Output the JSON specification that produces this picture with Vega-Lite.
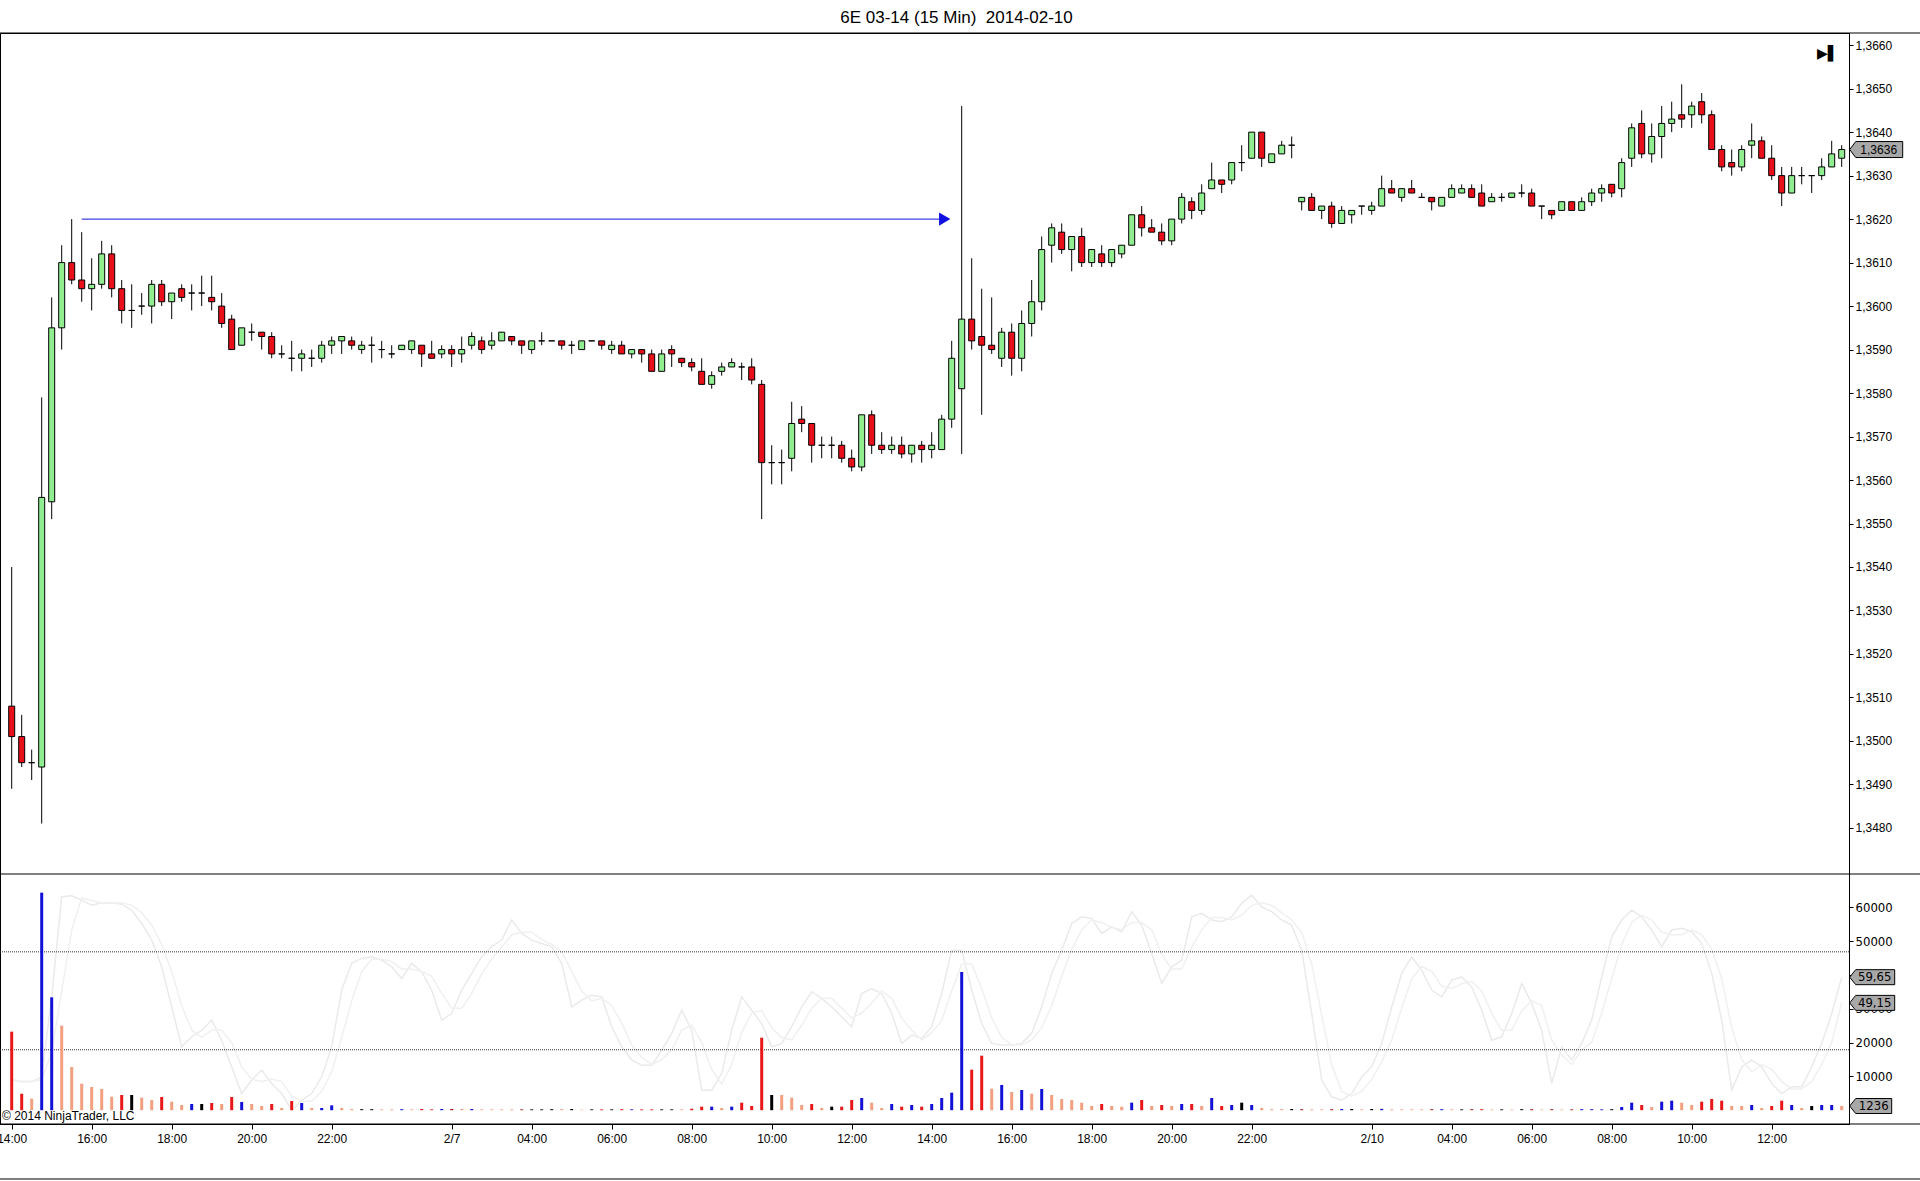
{
  "$schema": "https://vega.github.io/schema/vega-lite/v6.json",
  "autosize": {"type": "none"},
  "width": 1849,
  "height": 1091,
  "padding": {"left": 0, "top": 33, "right": 71, "bottom": 57},
  "background": "white",
  "title": {"text": "6E 03-14 (15 Min)\u00a0 2014-02-10", "font": "Liberation Sans", "fontSize": 17, "fontWeight": "normal", "color": "black", "anchor": "middle", "frame": "group", "dx": 32, "offset": 6},
  "config": {
    "view": {"stroke": "black", "strokeWidth": 1},
    "locale": {"number": {"decimal": ",", "thousands": ".", "grouping": [3], "currency": ["", " €"]}},
    "axis": {"labelFont": "Liberation Sans", "labelFontSize": 12, "labelColor": "black", "tickColor": "black", "domainColor": "black", "grid": false, "title": null}
  },
  "datasets": {
    "bars": [
      {"i":0,"o":1.3508,"h":1.3540,"l":1.3489,"c":1.3501,"v":23240,"vc":"down","k":17.6,"d":17.6},
      {"i":1,"o":1.3501,"h":1.3506,"l":1.3494,"c":1.3495,"v":4870,"vc":"down","k":16.9,"d":17.2},
      {"i":2,"o":1.3495,"h":1.3498,"l":1.3491,"c":1.3495,"v":3420,"vc":"fade","k":16.9,"d":17.1},
      {"i":3,"o":1.3494,"h":1.3579,"l":1.3481,"c":1.3556,"v":64360,"vc":"up","k":18.9,"d":17.6},
      {"i":4,"o":1.3555,"h":1.3602,"l":1.3551,"c":1.3595,"v":33390,"vc":"up","k":51.6,"d":29},
      {"i":5,"o":1.3595,"h":1.3614,"l":1.3590,"c":1.3610,"v":25010,"vc":"fade","k":92.5,"d":54},
      {"i":6,"o":1.3610,"h":1.3620,"l":1.3605,"c":1.3606,"v":12780,"vc":"fade","k":92.9,"d":79},
      {"i":7,"o":1.3606,"h":1.3617,"l":1.3601,"c":1.3604,"v":7850,"vc":"fade","k":91.1,"d":92},
      {"i":8,"o":1.3604,"h":1.3611,"l":1.3599,"c":1.3605,"v":6860,"vc":"fade","k":89.1,"d":91},
      {"i":9,"o":1.3605,"h":1.3615,"l":1.3604,"c":1.3612,"v":6270,"vc":"fade","k":90.0,"d":90},
      {"i":10,"o":1.3612,"h":1.3614,"l":1.3602,"c":1.3604,"v":4000,"vc":"fade","k":90.0,"d":90},
      {"i":11,"o":1.3604,"h":1.3606,"l":1.3596,"c":1.3599,"v":4500,"vc":"down","k":89.5,"d":90},
      {"i":12,"o":1.3599,"h":1.3605,"l":1.3595,"c":1.3599,"v":4500,"vc":"flat","k":87.0,"d":89},
      {"i":13,"o":1.3600,"h":1.3603,"l":1.3598,"c":1.3600,"v":3710,"vc":"fade","k":81.6,"d":86},
      {"i":14,"o":1.3600,"h":1.3606,"l":1.3596,"c":1.3605,"v":3020,"vc":"fade","k":74.8,"d":81},
      {"i":15,"o":1.3605,"h":1.3606,"l":1.3600,"c":1.3601,"v":3910,"vc":"down","k":63.9,"d":73},
      {"i":16,"o":1.3601,"h":1.3603,"l":1.3597,"c":1.3603,"v":2520,"vc":"fade","k":47.5,"d":62},
      {"i":17,"o":1.3604,"h":1.3605,"l":1.3601,"c":1.3602,"v":1540,"vc":"fade","k":31.2,"d":48},
      {"i":18,"o":1.3603,"h":1.3605,"l":1.3599,"c":1.3603,"v":1840,"vc":"up","k":35.3,"d":38},
      {"i":19,"o":1.3603,"h":1.3607,"l":1.3600,"c":1.3603,"v":1840,"vc":"flat","k":38.0,"d":35},
      {"i":20,"o":1.3602,"h":1.3607,"l":1.3599,"c":1.3601,"v":2130,"vc":"down","k":42.1,"d":38},
      {"i":21,"o":1.3600,"h":1.3603,"l":1.3595,"c":1.3596,"v":1840,"vc":"fade","k":33.9,"d":38},
      {"i":22,"o":1.3597,"h":1.3598,"l":1.3590,"c":1.3590,"v":3910,"vc":"down","k":23.0,"d":33},
      {"i":23,"o":1.3591,"h":1.3595,"l":1.3591,"c":1.3595,"v":2420,"vc":"up","k":12.1,"d":23},
      {"i":24,"o":1.3594,"h":1.3596,"l":1.3592,"c":1.3594,"v":1840,"vc":"fade","k":17.6,"d":18},
      {"i":25,"o":1.3594,"h":1.3594,"l":1.3590,"c":1.3593,"v":1240,"vc":"fade","k":21.7,"d":17},
      {"i":26,"o":1.3593,"h":1.3594,"l":1.3588,"c":1.3589,"v":1840,"vc":"down","k":16.2,"d":18},
      {"i":27,"o":1.3589,"h":1.3591,"l":1.3588,"c":1.3589,"v":650,"vc":"fade","k":12.1,"d":17},
      {"i":28,"o":1.3588,"h":1.3592,"l":1.3585,"c":1.3588,"v":2720,"vc":"down","k":5.3,"d":11},
      {"i":29,"o":1.3588,"h":1.3590,"l":1.3585,"c":1.3589,"v":2130,"vc":"up","k":9.4,"d":9},
      {"i":30,"o":1.3588,"h":1.3590,"l":1.3586,"c":1.3588,"v":650,"vc":"fade","k":12.1,"d":9},
      {"i":31,"o":1.3588,"h":1.3592,"l":1.3587,"c":1.3591,"v":650,"vc":"up","k":18.9,"d":13},
      {"i":32,"o":1.3591,"h":1.3593,"l":1.3589,"c":1.3592,"v":1440,"vc":"up","k":31.2,"d":21},
      {"i":33,"o":1.3592,"h":1.3593,"l":1.3589,"c":1.3593,"v":650,"vc":"fade","k":54.4,"d":35},
      {"i":34,"o":1.3592,"h":1.3593,"l":1.3590,"c":1.3591,"v":350,"vc":"fade","k":65.3,"d":50},
      {"i":35,"o":1.3590,"h":1.3592,"l":1.3589,"c":1.3591,"v":300,"vc":"flat","k":67.3,"d":62},
      {"i":36,"o":1.3591,"h":1.3593,"l":1.3587,"c":1.3591,"v":300,"vc":"flat","k":68.0,"d":67},
      {"i":37,"o":1.3590,"h":1.3592,"l":1.3588,"c":1.3590,"v":250,"vc":"fade","k":66.6,"d":67},
      {"i":38,"o":1.3589,"h":1.3591,"l":1.3588,"c":1.3589,"v":250,"vc":"fade","k":63.9,"d":66},
      {"i":39,"o":1.3590,"h":1.3591,"l":1.3590,"c":1.3591,"v":300,"vc":"up","k":59.1,"d":63},
      {"i":40,"o":1.3590,"h":1.3592,"l":1.3589,"c":1.3592,"v":250,"vc":"fade","k":65.3,"d":63},
      {"i":41,"o":1.3591,"h":1.3591,"l":1.3586,"c":1.3589,"v":350,"vc":"down","k":61.9,"d":62},
      {"i":42,"o":1.3589,"h":1.3592,"l":1.3588,"c":1.3588,"v":250,"vc":"down","k":54.4,"d":60},
      {"i":43,"o":1.3589,"h":1.3591,"l":1.3588,"c":1.3590,"v":350,"vc":"up","k":42.1,"d":53},
      {"i":44,"o":1.3590,"h":1.3591,"l":1.3586,"c":1.3589,"v":350,"vc":"deep","k":44.8,"d":47},
      {"i":45,"o":1.3589,"h":1.3593,"l":1.3587,"c":1.3590,"v":350,"vc":"fade","k":54.4,"d":47},
      {"i":46,"o":1.3591,"h":1.3594,"l":1.3590,"c":1.3593,"v":350,"vc":"up","k":61.2,"d":53},
      {"i":47,"o":1.3592,"h":1.3593,"l":1.3589,"c":1.3590,"v":250,"vc":"fade","k":68.0,"d":61},
      {"i":48,"o":1.3591,"h":1.3594,"l":1.3590,"c":1.3592,"v":250,"vc":"fade","k":72.1,"d":67},
      {"i":49,"o":1.3592,"h":1.3594,"l":1.3592,"c":1.3594,"v":250,"vc":"fade","k":74.8,"d":72},
      {"i":50,"o":1.3593,"h":1.3593,"l":1.3591,"c":1.3592,"v":250,"vc":"fade","k":83.0,"d":77},
      {"i":51,"o":1.3592,"h":1.3592,"l":1.3589,"c":1.3591,"v":250,"vc":"deep","k":77.5,"d":78},
      {"i":52,"o":1.3590,"h":1.3592,"l":1.3589,"c":1.3592,"v":250,"vc":"flat","k":74.8,"d":78},
      {"i":53,"o":1.3592,"h":1.3594,"l":1.3591,"c":1.3592,"v":250,"vc":"flat","k":73.4,"d":75},
      {"i":54,"o":1.3592,"h":1.3592,"l":1.3592,"c":1.3592,"v":300,"vc":"flat","k":72.1,"d":73},
      {"i":55,"o":1.3592,"h":1.3592,"l":1.3590,"c":1.3591,"v":300,"vc":"fade","k":65.3,"d":70},
      {"i":56,"o":1.3591,"h":1.3592,"l":1.3589,"c":1.3591,"v":350,"vc":"flat","k":47.5,"d":62},
      {"i":57,"o":1.3590,"h":1.3592,"l":1.3590,"c":1.3592,"v":150,"vc":"fade","k":50.3,"d":54},
      {"i":58,"o":1.3592,"h":1.3592,"l":1.3592,"c":1.3592,"v":250,"vc":"flat","k":52.3,"d":50},
      {"i":59,"o":1.3592,"h":1.3592,"l":1.3590,"c":1.3591,"v":250,"vc":"down","k":51.6,"d":51},
      {"i":60,"o":1.3590,"h":1.3592,"l":1.3589,"c":1.3591,"v":250,"vc":"flat","k":39.4,"d":48},
      {"i":61,"o":1.3591,"h":1.3592,"l":1.3589,"c":1.3589,"v":300,"vc":"down","k":31.2,"d":41},
      {"i":62,"o":1.3589,"h":1.3590,"l":1.3588,"c":1.3590,"v":250,"vc":"up","k":25.8,"d":32},
      {"i":63,"o":1.3590,"h":1.3590,"l":1.3587,"c":1.3589,"v":250,"vc":"down","k":23.7,"d":27},
      {"i":64,"o":1.3589,"h":1.3590,"l":1.3585,"c":1.3585,"v":250,"vc":"down","k":23.7,"d":24},
      {"i":65,"o":1.3585,"h":1.3590,"l":1.3585,"c":1.3589,"v":250,"vc":"flat","k":29.8,"d":26},
      {"i":66,"o":1.3590,"h":1.3591,"l":1.3586,"c":1.3589,"v":250,"vc":"flat","k":36.7,"d":30},
      {"i":67,"o":1.3588,"h":1.3588,"l":1.3586,"c":1.3587,"v":250,"vc":"fade","k":46.2,"d":38},
      {"i":68,"o":1.3587,"h":1.3588,"l":1.3585,"c":1.3586,"v":450,"vc":"down","k":38.0,"d":40},
      {"i":69,"o":1.3585,"h":1.3588,"l":1.3582,"c":1.3582,"v":1050,"vc":"down","k":13.5,"d":33},
      {"i":70,"o":1.3582,"h":1.3585,"l":1.3581,"c":1.3584,"v":1050,"vc":"up","k":13.5,"d":22},
      {"i":71,"o":1.3585,"h":1.3587,"l":1.3584,"c":1.3586,"v":650,"vc":"fade","k":20.3,"d":16},
      {"i":72,"o":1.3586,"h":1.3588,"l":1.3586,"c":1.3587,"v":1050,"vc":"up","k":38.0,"d":24},
      {"i":73,"o":1.3586,"h":1.3587,"l":1.3583,"c":1.3586,"v":2230,"vc":"down","k":51.6,"d":37},
      {"i":74,"o":1.3586,"h":1.3588,"l":1.3582,"c":1.3583,"v":1240,"vc":"down","k":46.2,"d":45},
      {"i":75,"o":1.3582,"h":1.3583,"l":1.3551,"c":1.3564,"v":21460,"vc":"down","k":40.7,"d":46},
      {"i":76,"o":1.3564,"h":1.3568,"l":1.3559,"c":1.3564,"v":4500,"vc":"flat","k":31.2,"d":39},
      {"i":77,"o":1.3564,"h":1.3567,"l":1.3559,"c":1.3564,"v":4500,"vc":"fade","k":32.6,"d":35},
      {"i":78,"o":1.3565,"h":1.3578,"l":1.3562,"c":1.3573,"v":3710,"vc":"fade","k":39.4,"d":34},
      {"i":79,"o":1.3574,"h":1.3577,"l":1.3571,"c":1.3573,"v":1540,"vc":"fade","k":47.5,"d":40},
      {"i":80,"o":1.3573,"h":1.3573,"l":1.3564,"c":1.3568,"v":1830,"vc":"down","k":53.7,"d":47},
      {"i":81,"o":1.3568,"h":1.3570,"l":1.3565,"c":1.3568,"v":650,"vc":"fade","k":51.0,"d":51},
      {"i":82,"o":1.3568,"h":1.3570,"l":1.3565,"c":1.3568,"v":1050,"vc":"flat","k":47.5,"d":51},
      {"i":83,"o":1.3568,"h":1.3569,"l":1.3564,"c":1.3565,"v":1050,"vc":"down","k":43.5,"d":47},
      {"i":84,"o":1.3565,"h":1.3567,"l":1.3562,"c":1.3563,"v":3020,"vc":"down","k":39.4,"d":43},
      {"i":85,"o":1.3563,"h":1.3575,"l":1.3562,"c":1.3575,"v":3610,"vc":"up","k":53.0,"d":45},
      {"i":86,"o":1.3575,"h":1.3576,"l":1.3566,"c":1.3568,"v":2230,"vc":"fade","k":55.0,"d":49},
      {"i":87,"o":1.3568,"h":1.3571,"l":1.3566,"c":1.3567,"v":650,"vc":"fade","k":53.0,"d":54},
      {"i":88,"o":1.3567,"h":1.3570,"l":1.3566,"c":1.3568,"v":1830,"vc":"up","k":44.8,"d":51},
      {"i":89,"o":1.3568,"h":1.3570,"l":1.3565,"c":1.3566,"v":1050,"vc":"down","k":32.6,"d":43},
      {"i":90,"o":1.3566,"h":1.3568,"l":1.3564,"c":1.3568,"v":1540,"vc":"up","k":36.0,"d":38},
      {"i":91,"o":1.3568,"h":1.3569,"l":1.3564,"c":1.3567,"v":1050,"vc":"down","k":34.6,"d":34},
      {"i":92,"o":1.3567,"h":1.3571,"l":1.3565,"c":1.3568,"v":1830,"vc":"up","k":39.4,"d":37},
      {"i":93,"o":1.3567,"h":1.3575,"l":1.3567,"c":1.3574,"v":3610,"vc":"up","k":53.0,"d":42},
      {"i":94,"o":1.3574,"h":1.3592,"l":1.3572,"c":1.3588,"v":5190,"vc":"up","k":70.7,"d":54},
      {"i":95,"o":1.3581,"h":1.3646,"l":1.3566,"c":1.3597,"v":40890,"vc":"up","k":70.7,"d":65},
      {"i":96,"o":1.3597,"h":1.3611,"l":1.3590,"c":1.3592,"v":11990,"vc":"down","k":54.4,"d":65},
      {"i":97,"o":1.3593,"h":1.3604,"l":1.3575,"c":1.3591,"v":16130,"vc":"down","k":40.7,"d":55},
      {"i":98,"o":1.3591,"h":1.3602,"l":1.3589,"c":1.3590,"v":6370,"vc":"fade","k":32.6,"d":43},
      {"i":99,"o":1.3588,"h":1.3595,"l":1.3586,"c":1.3594,"v":7460,"vc":"up","k":31.9,"d":35},
      {"i":100,"o":1.3594,"h":1.3596,"l":1.3584,"c":1.3588,"v":5380,"vc":"fade","k":31.9,"d":32},
      {"i":101,"o":1.3588,"h":1.3599,"l":1.3585,"c":1.3596,"v":5980,"vc":"up","k":32.6,"d":32},
      {"i":102,"o":1.3596,"h":1.3606,"l":1.3593,"c":1.3601,"v":4890,"vc":"fade","k":36.7,"d":34},
      {"i":103,"o":1.3601,"h":1.3616,"l":1.3599,"c":1.3613,"v":6270,"vc":"up","k":47.5,"d":39},
      {"i":104,"o":1.3614,"h":1.3619,"l":1.3610,"c":1.3618,"v":4500,"vc":"fade","k":61.2,"d":48},
      {"i":105,"o":1.3617,"h":1.3619,"l":1.3612,"c":1.3613,"v":3310,"vc":"fade","k":70.7,"d":60},
      {"i":106,"o":1.3613,"h":1.3616,"l":1.3608,"c":1.3616,"v":3020,"vc":"fade","k":81.6,"d":71},
      {"i":107,"o":1.3616,"h":1.3618,"l":1.3609,"c":1.3610,"v":2230,"vc":"fade","k":84.3,"d":79},
      {"i":108,"o":1.3610,"h":1.3613,"l":1.3609,"c":1.3613,"v":1240,"vc":"fade","k":83.6,"d":83},
      {"i":109,"o":1.3612,"h":1.3614,"l":1.3609,"c":1.3610,"v":1830,"vc":"down","k":77.5,"d":82},
      {"i":110,"o":1.3610,"h":1.3613,"l":1.3609,"c":1.3613,"v":1240,"vc":"fade","k":80.2,"d":80},
      {"i":111,"o":1.3612,"h":1.3614,"l":1.3611,"c":1.3614,"v":1050,"vc":"fade","k":78.2,"d":79},
      {"i":112,"o":1.3614,"h":1.3621,"l":1.3614,"c":1.3621,"v":2230,"vc":"up","k":86.4,"d":82},
      {"i":113,"o":1.3621,"h":1.3623,"l":1.3616,"c":1.3618,"v":3020,"vc":"down","k":80.9,"d":82},
      {"i":114,"o":1.3618,"h":1.3620,"l":1.3617,"c":1.3617,"v":1240,"vc":"fade","k":69.3,"d":79},
      {"i":115,"o":1.3617,"h":1.3619,"l":1.3614,"c":1.3615,"v":1540,"vc":"down","k":57.1,"d":69},
      {"i":116,"o":1.3615,"h":1.3620,"l":1.3614,"c":1.3620,"v":1240,"vc":"fade","k":63.9,"d":63},
      {"i":117,"o":1.3620,"h":1.3626,"l":1.3619,"c":1.3625,"v":1830,"vc":"up","k":66.6,"d":63},
      {"i":118,"o":1.3624,"h":1.3625,"l":1.3620,"c":1.3622,"v":1830,"vc":"down","k":84.3,"d":72},
      {"i":119,"o":1.3622,"h":1.3628,"l":1.3621,"c":1.3626,"v":1240,"vc":"fade","k":85.7,"d":79},
      {"i":120,"o":1.3627,"h":1.3633,"l":1.3627,"c":1.3629,"v":3610,"vc":"up","k":83.0,"d":84},
      {"i":121,"o":1.3629,"h":1.3629,"l":1.3626,"c":1.3628,"v":1240,"vc":"down","k":82.3,"d":84},
      {"i":122,"o":1.3629,"h":1.3633,"l":1.3628,"c":1.3633,"v":1540,"vc":"up","k":84.3,"d":83},
      {"i":123,"o":1.3633,"h":1.3637,"l":1.3631,"c":1.3633,"v":2230,"vc":"flat","k":89.8,"d":85},
      {"i":124,"o":1.3634,"h":1.3640,"l":1.3634,"c":1.3640,"v":1540,"vc":"up","k":93.2,"d":89},
      {"i":125,"o":1.3640,"h":1.3640,"l":1.3632,"c":1.3634,"v":650,"vc":"fade","k":88.4,"d":90},
      {"i":126,"o":1.3633,"h":1.3635,"l":1.3633,"c":1.3635,"v":300,"vc":"fade","k":86.4,"d":89},
      {"i":127,"o":1.3635,"h":1.3638,"l":1.3635,"c":1.3637,"v":300,"vc":"fade","k":83.0,"d":86},
      {"i":128,"o":1.3637,"h":1.3639,"l":1.3634,"c":1.3637,"v":350,"vc":"flat","k":80.9,"d":83},
      {"i":129,"o":1.3624,"h":1.3625,"l":1.3622,"c":1.3625,"v":300,"vc":"deep","k":70.7,"d":78},
      {"i":130,"o":1.3625,"h":1.3626,"l":1.3622,"c":1.3622,"v":250,"vc":"fade","k":44.8,"d":65},
      {"i":131,"o":1.3622,"h":1.3623,"l":1.3620,"c":1.3623,"v":250,"vc":"fade","k":17.6,"d":44},
      {"i":132,"o":1.3623,"h":1.3624,"l":1.3618,"c":1.3619,"v":300,"vc":"deep","k":10.8,"d":24},
      {"i":133,"o":1.3619,"h":1.3623,"l":1.3619,"c":1.3622,"v":350,"vc":"up","k":9.4,"d":13},
      {"i":134,"o":1.3621,"h":1.3622,"l":1.3619,"c":1.3622,"v":350,"vc":"flat","k":12.1,"d":11},
      {"i":135,"o":1.3623,"h":1.3623,"l":1.3621,"c":1.3623,"v":250,"vc":"fade","k":18.9,"d":13},
      {"i":136,"o":1.3622,"h":1.3624,"l":1.3621,"c":1.3623,"v":350,"vc":"flat","k":23.0,"d":18},
      {"i":137,"o":1.3623,"h":1.3630,"l":1.3623,"c":1.3627,"v":400,"vc":"up","k":32.6,"d":25},
      {"i":138,"o":1.3627,"h":1.3629,"l":1.3626,"c":1.3626,"v":250,"vc":"fade","k":47.5,"d":34},
      {"i":139,"o":1.3625,"h":1.3627,"l":1.3624,"c":1.3627,"v":250,"vc":"fade","k":61.2,"d":47},
      {"i":140,"o":1.3627,"h":1.3629,"l":1.3626,"c":1.3626,"v":250,"vc":"fade","k":68.0,"d":59},
      {"i":141,"o":1.3625,"h":1.3626,"l":1.3625,"c":1.3625,"v":250,"vc":"fade","k":62.5,"d":64},
      {"i":142,"o":1.3625,"h":1.3625,"l":1.3622,"c":1.3624,"v":300,"vc":"deep","k":54.4,"d":62},
      {"i":143,"o":1.3623,"h":1.3625,"l":1.3623,"c":1.3625,"v":300,"vc":"up","k":51.6,"d":56},
      {"i":144,"o":1.3625,"h":1.3628,"l":1.3625,"c":1.3627,"v":250,"vc":"fade","k":58.4,"d":55},
      {"i":145,"o":1.3626,"h":1.3628,"l":1.3626,"c":1.3627,"v":250,"vc":"flat","k":59.8,"d":57},
      {"i":146,"o":1.3627,"h":1.3628,"l":1.3625,"c":1.3625,"v":300,"vc":"deep","k":55.7,"d":58},
      {"i":147,"o":1.3626,"h":1.3628,"l":1.3623,"c":1.3623,"v":300,"vc":"down","k":46.2,"d":54},
      {"i":148,"o":1.3624,"h":1.3626,"l":1.3624,"c":1.3625,"v":200,"vc":"fade","k":33.9,"d":45},
      {"i":149,"o":1.3625,"h":1.3626,"l":1.3624,"c":1.3625,"v":250,"vc":"flat","k":35.3,"d":38},
      {"i":150,"o":1.3625,"h":1.3626,"l":1.3625,"c":1.3626,"v":200,"vc":"fade","k":44.8,"d":38},
      {"i":151,"o":1.3626,"h":1.3628,"l":1.3625,"c":1.3626,"v":300,"vc":"flat","k":57.1,"d":46},
      {"i":152,"o":1.3626,"h":1.3627,"l":1.3623,"c":1.3623,"v":300,"vc":"deep","k":48.9,"d":50},
      {"i":153,"o":1.3623,"h":1.3623,"l":1.3620,"c":1.3623,"v":200,"vc":"fade","k":38.0,"d":48},
      {"i":154,"o":1.3622,"h":1.3622,"l":1.3620,"c":1.3621,"v":300,"vc":"deep","k":16.2,"d":34},
      {"i":155,"o":1.3622,"h":1.3624,"l":1.3622,"c":1.3624,"v":200,"vc":"fade","k":31.2,"d":28},
      {"i":156,"o":1.3624,"h":1.3624,"l":1.3622,"c":1.3622,"v":250,"vc":"deep","k":25.8,"d":24},
      {"i":157,"o":1.3622,"h":1.3625,"l":1.3622,"c":1.3624,"v":300,"vc":"up","k":32.6,"d":30},
      {"i":158,"o":1.3624,"h":1.3627,"l":1.3623,"c":1.3626,"v":300,"vc":"up","k":42.1,"d":33},
      {"i":159,"o":1.3626,"h":1.3628,"l":1.3624,"c":1.3627,"v":250,"vc":"up","k":59.8,"d":45},
      {"i":160,"o":1.3628,"h":1.3628,"l":1.3625,"c":1.3626,"v":300,"vc":"flat","k":76.1,"d":59},
      {"i":161,"o":1.3627,"h":1.3634,"l":1.3625,"c":1.3633,"v":950,"vc":"up","k":83.0,"d":73},
      {"i":162,"o":1.3634,"h":1.3642,"l":1.3632,"c":1.3641,"v":2230,"vc":"up","k":87.0,"d":82},
      {"i":163,"o":1.3642,"h":1.3645,"l":1.3634,"c":1.3635,"v":1540,"vc":"down","k":84.3,"d":85},
      {"i":164,"o":1.3635,"h":1.3642,"l":1.3633,"c":1.3639,"v":950,"vc":"fade","k":78.9,"d":83},
      {"i":165,"o":1.3639,"h":1.3646,"l":1.3634,"c":1.3642,"v":2520,"vc":"up","k":72.1,"d":78},
      {"i":166,"o":1.3642,"h":1.3647,"l":1.3640,"c":1.3643,"v":2820,"vc":"up","k":78.9,"d":77},
      {"i":167,"o":1.3644,"h":1.3651,"l":1.3641,"c":1.3643,"v":2230,"vc":"fade","k":79.6,"d":77},
      {"i":168,"o":1.3644,"h":1.3647,"l":1.3641,"c":1.3646,"v":1540,"vc":"fade","k":78.2,"d":79},
      {"i":169,"o":1.3647,"h":1.3649,"l":1.3642,"c":1.3644,"v":2520,"vc":"down","k":73.4,"d":77},
      {"i":170,"o":1.3644,"h":1.3645,"l":1.3636,"c":1.3636,"v":3310,"vc":"down","k":61.2,"d":71},
      {"i":171,"o":1.3636,"h":1.3637,"l":1.3631,"c":1.3632,"v":2820,"vc":"down","k":42.1,"d":59},
      {"i":172,"o":1.3633,"h":1.3636,"l":1.3630,"c":1.3632,"v":1240,"vc":"fade","k":13.5,"d":39},
      {"i":173,"o":1.3632,"h":1.3637,"l":1.3631,"c":1.3636,"v":1240,"vc":"fade","k":23.0,"d":26},
      {"i":174,"o":1.3637,"h":1.3642,"l":1.3634,"c":1.3638,"v":1540,"vc":"up","k":25.8,"d":21},
      {"i":175,"o":1.3638,"h":1.3639,"l":1.3634,"c":1.3634,"v":650,"vc":"fade","k":23.0,"d":24},
      {"i":176,"o":1.3634,"h":1.3637,"l":1.3629,"c":1.3630,"v":1240,"vc":"down","k":16.2,"d":22},
      {"i":177,"o":1.3630,"h":1.3632,"l":1.3623,"c":1.3626,"v":2820,"vc":"down","k":12.1,"d":17},
      {"i":178,"o":1.3626,"h":1.3632,"l":1.3626,"c":1.3630,"v":1540,"vc":"up","k":14.9,"d":14},
      {"i":179,"o":1.3630,"h":1.3632,"l":1.3628,"c":1.3630,"v":650,"vc":"fade","k":14.9,"d":14},
      {"i":180,"o":1.3630,"h":1.3630,"l":1.3626,"c":1.3630,"v":1240,"vc":"flat","k":23.0,"d":17},
      {"i":181,"o":1.3630,"h":1.3634,"l":1.3629,"c":1.3632,"v":1540,"vc":"up","k":32.6,"d":24},
      {"i":182,"o":1.3632,"h":1.3638,"l":1.3632,"c":1.3635,"v":1540,"vc":"up","k":44.8,"d":33},
      {"i":183,"o":1.3634,"h":1.3637,"l":1.3632,"c":1.3636,"v":1236,"vc":"fade","k":59.65,"d":49.15}
    ]
  },
  "data": {"name": "bars"},
  "layer": [
    {
      "mark": {"type": "line", "color": "#eaeaea", "strokeWidth": 1.5},
      "encoding": {
        "x": {"field": "i", "type": "quantitative", "scale": {"domain": [-1.17, 183.73], "nice": false, "zero": false, "padding": 0}, "axis": null},
        "y": {"field": "k", "type": "quantitative", "scale": {"domain": [-0.33, 101.8], "range": [1091, 841], "nice": false, "zero": false}, "axis": null}
      }
    },
    {
      "mark": {"type": "line", "color": "#f0f0f0", "strokeWidth": 1.5},
      "encoding": {
        "x": {"field": "i", "type": "quantitative", "scale": {"domain": [-1.17, 183.73], "nice": false, "zero": false, "padding": 0}, "axis": null},
        "y": {"field": "d", "type": "quantitative", "scale": {"domain": [-0.33, 101.8], "range": [1091, 841], "nice": false, "zero": false}, "axis": null}
      }
    },
    {
      "data": {"values": [{"lvl": 70}, {"lvl": 30}]},
      "mark": {"type": "rule", "color": "#333333", "strokeWidth": 1, "strokeDash": [1, 1]},
      "encoding": {
        "y": {"field": "lvl", "type": "quantitative", "scale": {"domain": [-0.33, 101.8], "range": [1091, 841], "nice": false, "zero": false}, "axis": null}
      }
    },
    {
      "mark": {"type": "bar", "size": 3},
      "encoding": {
        "x": {"field": "i", "type": "quantitative", "scale": {"domain": [-1.17, 183.73], "nice": false, "zero": false, "padding": 0},
              "axis": {"orient": "bottom", "title": null, "grid": false, "tickSize": 5, "labelPadding": 4, "labelFontSize": 12, "labelFont": "Liberation Sans", "labelOverlap": false, "labelFlush": false, "labelBound": false,
                       "values": [0,8,16,24,32,44,52,60,68,76,84,92,100,108,116,124,136,144,152,160,168,176],
                       "labelExpr": "['14:00','16:00','18:00','20:00','22:00','2/7','04:00','06:00','08:00','10:00','12:00','14:00','16:00','18:00','20:00','22:00','2/10','04:00','06:00','08:00','10:00','12:00'][indexof([0,8,16,24,32,44,52,60,68,76,84,92,100,108,116,124,136,144,152,160,168,176], datum.value)]"}},
        "y": {"field": "v", "type": "quantitative", "scale": {"domain": [-4083, 69882], "range": [1091, 841], "nice": false, "zero": false, "padding": 0},
              "axis": {"orient": "right", "title": null, "values": [10000, 20000, 30000, 40000, 50000, 60000], "format": "d", "tickSize": 4, "labelPadding": 2, "labelFont": "Liberation Sans Narrow, DejaVu Sans Condensed, sans-serif", "labelFontSize": 13, "grid": false}},
        "y2": {"datum": 0},
        "color": {"field": "vc", "type": "nominal", "scale": {"domain": ["up", "down", "fade", "flat", "deep"], "range": ["#1212d6", "#e81818", "#f2a080", "#000000", "#a01818"]}, "legend": null}
      }
    },
    {
      "mark": {"type": "rule", "color": "black", "strokeWidth": 1},
      "encoding": {
        "x": {"field": "i", "type": "quantitative", "scale": {"domain": [-1.17, 183.73], "nice": false, "zero": false, "padding": 0}, "axis": null},
        "y": {"field": "l", "type": "quantitative", "scale": {"domain": [1.34694, 1.36628], "range": [841, 0], "nice": false, "zero": false},
              "axis": {"orient": "right", "title": null, "values": [1.348,1.349,1.35,1.351,1.352,1.353,1.354,1.355,1.356,1.357,1.358,1.359,1.36,1.361,1.362,1.363,1.364,1.365,1.366], "format": ".4f", "tickSize": 4, "labelPadding": 2, "labelFont": "Liberation Sans", "labelFontSize": 12, "grid": false}},
        "y2": {"field": "h"}
      }
    },
    {
      "mark": {"type": "bar", "size": 6, "stroke": "black", "strokeWidth": 1},
      "encoding": {
        "x": {"field": "i", "type": "quantitative", "scale": {"domain": [-1.17, 183.73], "nice": false, "zero": false, "padding": 0}, "axis": null},
        "y": {"field": "o", "type": "quantitative", "scale": {"domain": [1.34694, 1.36628], "range": [841, 0], "nice": false, "zero": false, "padding": 0}, "axis": null},
        "y2": {"field": "c"},
        "fill": {"condition": {"test": "datum.c < datum.o", "value": "#e8101a"}, "value": "#90ee90"}
      }
    },
    {
      "data": {"values": [{"x0": 7, "x1": 93, "p": 1.362}]},
      "mark": {"type": "rule", "color": "#1010e0", "strokeWidth": 1},
      "encoding": {
        "x": {"field": "x0", "type": "quantitative", "scale": {"domain": [-1.17, 183.73], "nice": false, "zero": false, "padding": 0}, "axis": null},
        "x2": {"field": "x1"},
        "y": {"field": "p", "type": "quantitative", "scale": {"domain": [1.34694, 1.36628], "range": [841, 0], "nice": false, "zero": false}, "axis": null}
      }
    },
    {
      "data": {"values": [{"x1": 93.3, "p": 1.362}]},
      "mark": {"type": "point", "shape": "triangle-right", "size": 170, "filled": true, "fill": "#1010e0", "stroke": null, "opacity": 1},
      "encoding": {
        "x": {"field": "x1", "type": "quantitative", "scale": {"domain": [-1.17, 183.73], "nice": false, "zero": false, "padding": 0}, "axis": null},
        "y": {"field": "p", "type": "quantitative", "scale": {"domain": [1.34694, 1.36628], "range": [841, 0], "nice": false, "zero": false}, "axis": null}
      }
    },
    {
      "data": {"values": [{"p": 1.36628}, {"p": 1.34694}]},
      "mark": {"type": "rule", "color": "black", "strokeWidth": 1},
      "encoding": {
        "x": {"datum": -3, "type": "quantitative", "scale": {"domain": [-1.17, 183.73], "nice": false, "zero": false, "padding": 0}, "axis": null},
        "x2": {"datum": 250},
        "y": {"field": "p", "type": "quantitative", "scale": {"domain": [1.34694, 1.36628], "range": [841, 0], "nice": false, "zero": false}, "axis": null}
      }
    },
    {
      "data": {"values": [{"vv": -4083}, {"vv": -20355}]},
      "mark": {"type": "rule", "color": "black", "strokeWidth": 1},
      "encoding": {
        "x": {"datum": -3, "type": "quantitative", "scale": {"domain": [-1.17, 183.73], "nice": false, "zero": false, "padding": 0}, "axis": null},
        "x2": {"datum": 250},
        "y": {"field": "vv", "type": "quantitative", "scale": {"domain": [-4083, 69882], "range": [1091, 841], "nice": false, "zero": false}, "axis": null}
      }
    },
    {
      "data": {"values": [{"t": "© 2014 NinjaTrader, LLC", "x": -1.17, "vv": -1716}]},
      "mark": {"type": "text", "align": "left", "baseline": "middle", "dx": 2, "font": "Liberation Sans", "fontSize": 12, "color": "black"},
      "encoding": {
        "x": {"field": "x", "type": "quantitative", "scale": {"domain": [-1.17, 183.73], "nice": false, "zero": false, "padding": 0}, "axis": null},
        "y": {"field": "vv", "type": "quantitative", "scale": {"domain": [-4083, 69882], "range": [1091, 841], "nice": false, "zero": false}, "axis": null},
        "text": {"field": "t"}
      }
    },
    {
      "data": {"values": [{"t": "▶▌", "x": 181.6, "p": 1.3658}]},
      "mark": {"type": "text", "align": "center", "baseline": "middle", "font": "DejaVu Sans", "fontSize": 14, "color": "black"},
      "encoding": {
        "x": {"field": "x", "type": "quantitative", "scale": {"domain": [-1.17, 183.73], "nice": false, "zero": false, "padding": 0}, "axis": null},
        "y": {"field": "p", "type": "quantitative", "scale": {"domain": [1.34694, 1.36628], "range": [841, 0], "nice": false, "zero": false}, "axis": null},
        "text": {"field": "t"}
      }
    },
    {
      "transform": [{"filter": "datum.i == 183"}],
      "layer": [
        {
          "mark": {"type": "point", "shape": "M8,0L14,-8L61,-8L61,8L14,8Z", "size": 4, "filled": true, "fill": "#a8a8a8", "stroke": "black", "strokeWidth": 1, "opacity": 1},
          "encoding": {
            "x": {"field": "i", "type": "quantitative", "scale": {"domain": [-1.17, 183.73], "nice": false, "zero": false, "padding": 0}, "axis": null},
            "y": {"field": "c", "type": "quantitative", "scale": {"domain": [1.34694, 1.36628], "range": [841, 0], "nice": false, "zero": false}, "axis": null}
          }
        },
        {
          "mark": {"type": "text", "align": "center", "baseline": "middle", "dx": 37, "font": "Liberation Sans", "fontSize": 12, "color": "black"},
          "encoding": {
            "x": {"field": "i", "type": "quantitative", "scale": {"domain": [-1.17, 183.73], "nice": false, "zero": false, "padding": 0}, "axis": null},
            "y": {"field": "c", "type": "quantitative", "scale": {"domain": [1.34694, 1.36628], "range": [841, 0], "nice": false, "zero": false}, "axis": null},
            "text": {"field": "c", "type": "quantitative", "format": ".4f"}
          }
        }
      ]
    },
    {
      "transform": [{"filter": "datum.i == 183"}],
      "layer": [
        {
          "mark": {"type": "point", "shape": "M8,0L14,-7.5L53,-7.5L53,7.5L14,7.5Z", "size": 4, "filled": true, "fill": "#a8a8a8", "stroke": "black", "strokeWidth": 1, "opacity": 1},
          "encoding": {
            "x": {"field": "i", "type": "quantitative", "scale": {"domain": [-1.17, 183.73], "nice": false, "zero": false, "padding": 0}, "axis": null},
            "y": {"field": "k", "type": "quantitative", "scale": {"domain": [-0.33, 101.8], "range": [1091, 841], "nice": false, "zero": false}, "axis": null}
          }
        },
        {
          "mark": {"type": "text", "align": "center", "baseline": "middle", "dx": 33, "font": "Liberation Sans Narrow, DejaVu Sans Condensed, sans-serif", "fontSize": 13, "color": "black"},
          "encoding": {
            "x": {"field": "i", "type": "quantitative", "scale": {"domain": [-1.17, 183.73], "nice": false, "zero": false, "padding": 0}, "axis": null},
            "y": {"field": "k", "type": "quantitative", "scale": {"domain": [-0.33, 101.8], "range": [1091, 841], "nice": false, "zero": false}, "axis": null},
            "text": {"field": "k", "type": "quantitative", "format": ".2f"}
          }
        },
        {
          "mark": {"type": "point", "shape": "M8,0L14,-7.5L53,-7.5L53,7.5L14,7.5Z", "size": 4, "filled": true, "fill": "#a8a8a8", "stroke": "black", "strokeWidth": 1, "opacity": 1},
          "encoding": {
            "x": {"field": "i", "type": "quantitative", "scale": {"domain": [-1.17, 183.73], "nice": false, "zero": false, "padding": 0}, "axis": null},
            "y": {"field": "d", "type": "quantitative", "scale": {"domain": [-0.33, 101.8], "range": [1091, 841], "nice": false, "zero": false}, "axis": null}
          }
        },
        {
          "mark": {"type": "text", "align": "center", "baseline": "middle", "dx": 33, "font": "Liberation Sans Narrow, DejaVu Sans Condensed, sans-serif", "fontSize": 13, "color": "black"},
          "encoding": {
            "x": {"field": "i", "type": "quantitative", "scale": {"domain": [-1.17, 183.73], "nice": false, "zero": false, "padding": 0}, "axis": null},
            "y": {"field": "d", "type": "quantitative", "scale": {"domain": [-0.33, 101.8], "range": [1091, 841], "nice": false, "zero": false}, "axis": null},
            "text": {"field": "d", "type": "quantitative", "format": ".2f"}
          }
        },
        {
          "mark": {"type": "point", "shape": "M8,0L14,-7.5L50,-7.5L50,7.5L14,7.5Z", "size": 4, "filled": true, "fill": "#a8a8a8", "stroke": "black", "strokeWidth": 1, "opacity": 1},
          "encoding": {
            "x": {"field": "i", "type": "quantitative", "scale": {"domain": [-1.17, 183.73], "nice": false, "zero": false, "padding": 0}, "axis": null},
            "y": {"field": "v", "type": "quantitative", "scale": {"domain": [-4083, 69882], "range": [1091, 841], "nice": false, "zero": false}, "axis": null}
          }
        },
        {
          "mark": {"type": "text", "align": "center", "baseline": "middle", "dx": 32, "font": "Liberation Sans Narrow, DejaVu Sans Condensed, sans-serif", "fontSize": 13, "color": "black"},
          "encoding": {
            "x": {"field": "i", "type": "quantitative", "scale": {"domain": [-1.17, 183.73], "nice": false, "zero": false, "padding": 0}, "axis": null},
            "y": {"field": "v", "type": "quantitative", "scale": {"domain": [-4083, 69882], "range": [1091, 841], "nice": false, "zero": false}, "axis": null},
            "text": {"field": "v", "type": "quantitative", "format": "d"}
          }
        }
      ],
      "resolve": {"scale": {"y": "independent", "x": "independent"}, "axis": {"y": "independent", "x": "independent"}}
    }
  ],
  "resolve": {"scale": {"y": "independent", "x": "independent"}, "axis": {"y": "independent", "x": "independent"}}
}
